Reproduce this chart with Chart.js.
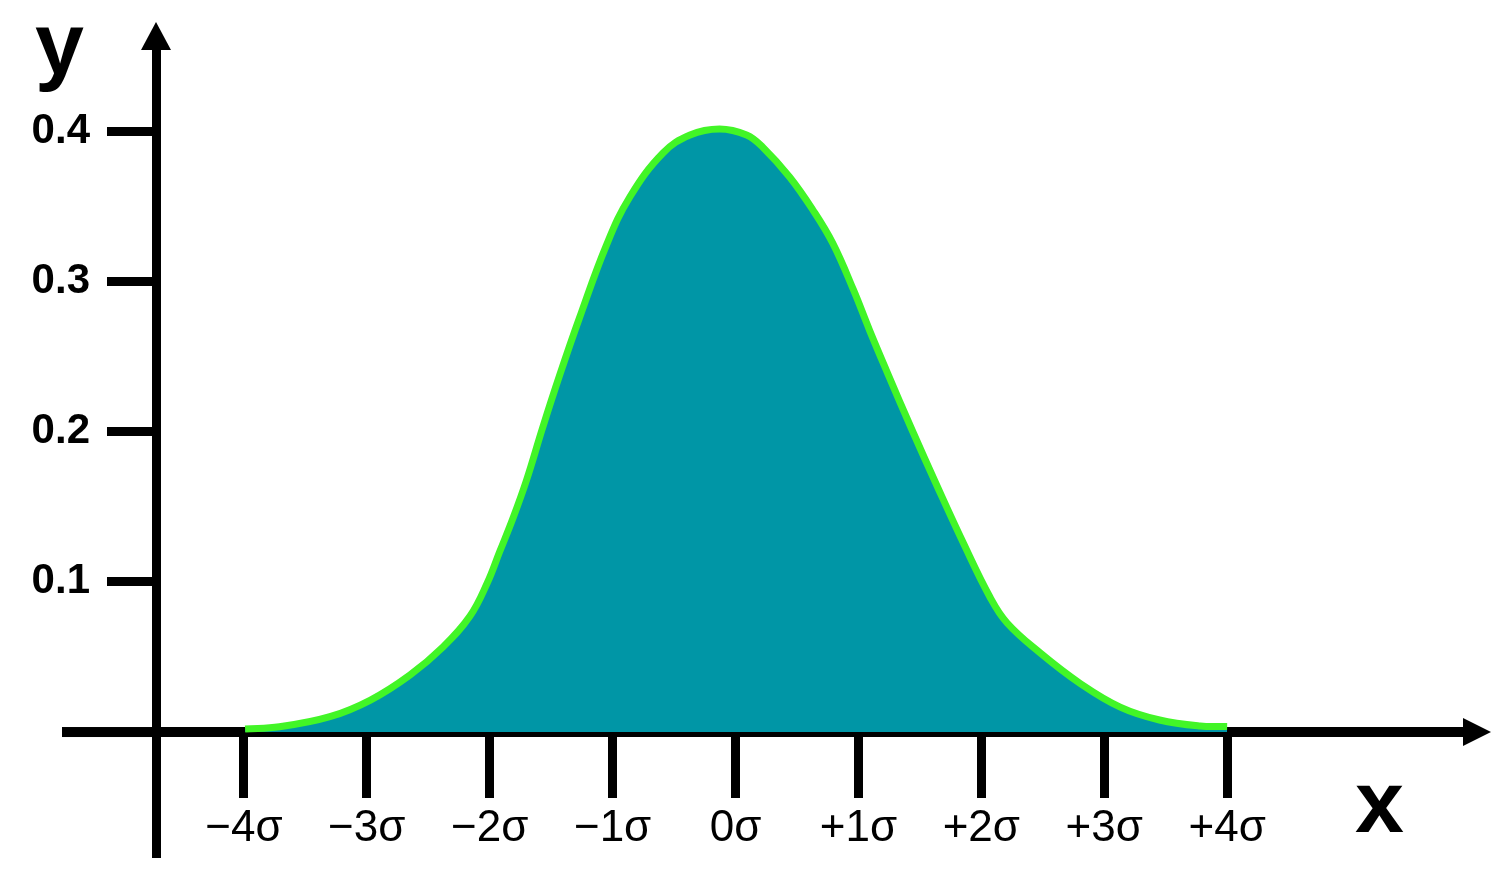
<!DOCTYPE html>
<html>
<head>
<meta charset="utf-8">
<title>Normal distribution</title>
<script src="https://cdn.jsdelivr.net/npm/chart.js@4/dist/chart.umd.min.js"></script>
<style>
    html, body { margin: 0; padding: 0; background: #ffffff; }
    #chart { display: block; }
</style>
</head>
<body>
<canvas id="chart" width="1507" height="890"></canvas>
<script>
// ============================================================================
// Data
// ============================================================================

// Curve samples: x in units of sigma, y = density
const curveX = [
    -3.99, -3.71, -3.30, -2.97, -2.65, -2.38, -2.16, -2.02, -1.92, -1.81,
    -1.70, -1.57, -1.43, -1.27, -1.05, -0.86, -0.59, -0.37, -0.13, 0.09,
    0.22, 0.44, 0.63, 0.79, 0.96, 1.09, 1.23, 1.44, 1.64, 1.85,
    2.07, 2.21, 2.48, 2.80, 3.13, 3.45, 3.78, 4.00
];
const curveY = [
    0.002, 0.0035, 0.0102, 0.0213, 0.0379, 0.0566, 0.0772, 0.0992, 0.1198, 0.1425,
    0.1678, 0.2024, 0.2377, 0.2756, 0.3242, 0.3562, 0.3855, 0.3975, 0.4015, 0.3975,
    0.3895, 0.3695, 0.3475, 0.3256, 0.2943, 0.2676, 0.2403, 0.2004, 0.1638, 0.1265,
    0.0899, 0.0726, 0.0526, 0.0326, 0.0166, 0.008, 0.004, 0.0037
];

// Axis ticks
const xTickValues = [-4, -3, -2, -1, 0, 1, 2, 3, 4];
const xTickLabels = ['\u22124\u03C3', '\u22123\u03C3', '\u22122\u03C3', '\u22121\u03C3', '0\u03C3',
                     '+1\u03C3', '+2\u03C3', '+3\u03C3', '+4\u03C3'];
const yTickValues = [0.1, 0.2, 0.3, 0.4];

const xAxisTitle = 'x';
const yAxisTitle = 'y';

// ============================================================================
// Styling
// ============================================================================

const FONT = "'Liberation Sans', Arial, sans-serif";
const FILL_COLOR = '#0096a6';
const LINE_COLOR = '#42f527';
const AXIS_COLOR = '#000000';

/**
 * Draws the parts of the axes Chart.js has no option for:
 * the stub of the x axis left of the y axis, both arrow heads and the titles.
 */
const axisExtras = {
    id: 'axisExtras',
    afterDraw(chart) {
        const { ctx, chartArea, scales } = chart;
        const y0 = scales.y.getPixelForValue(0);
        const yAxisX = chartArea.left;

        ctx.save();
        ctx.fillStyle = AXIS_COLOR;

        // x axis stub to the left of the y axis
        ctx.fillRect(62, y0 - 5, yAxisX - 62, 10);

        // x arrow head
        ctx.beginPath();
        ctx.moveTo(chartArea.right + 21, y0);
        ctx.lineTo(chartArea.right - 7, y0 - 14);
        ctx.lineTo(chartArea.right - 7, y0 + 14);
        ctx.closePath();
        ctx.fill();

        // y arrow head
        ctx.beginPath();
        ctx.moveTo(yAxisX, chartArea.top - 18);
        ctx.lineTo(yAxisX - 15, chartArea.top + 10);
        ctx.lineTo(yAxisX + 15, chartArea.top + 10);
        ctx.closePath();
        ctx.fill();

        // axis titles
        ctx.font = 'bold 88px ' + FONT;
        ctx.textAlign = 'left';
        ctx.textBaseline = 'alphabetic';
        ctx.fillText(yAxisTitle, yAxisX - 121, 74);
        ctx.fillText(xAxisTitle, 1355, 832);

        ctx.restore();
    }
};

// ============================================================================
// Chart
// ============================================================================

const points = curveX.map((x, i) => ({ x, y: curveY[i] }));

new Chart(document.getElementById('chart'), {
    type: 'line',
    data: {
        datasets: [{
            data: points,
            borderColor: LINE_COLOR,
            backgroundColor: FILL_COLOR,
            borderWidth: 7,
            fill: 'origin',
            pointRadius: 0,
            tension: 0.4,
            borderCapStyle: 'butt'
        }]
    },
    options: {
        responsive: false,
        animation: false,
        layout: {
            padding: { left: 0, right: 37, top: 40, bottom: 33 }
        },
        plugins: {
            legend: { display: false },
            tooltip: { enabled: false }
        },
        scales: {
            x: {
                type: 'linear',
                position: { y: 0 },
                min: -4.715,
                max: 5.976,
                z: 1,
                afterFit: (scale) => { scale.height = 0; },
                afterBuildTicks: (scale) => {
                    scale.ticks = xTickValues.map(v => ({ value: v }));
                },
                border: { display: true, color: AXIS_COLOR, width: 10 },
                grid: {
                    drawOnChartArea: false,
                    drawTicks: true,
                    tickLength: 61,
                    tickWidth: 9,
                    tickColor: AXIS_COLOR
                },
                ticks: {
                    autoSkip: false,
                    maxRotation: 0,
                    padding: 9,
                    color: AXIS_COLOR,
                    font: { family: FONT, size: 44 },
                    callback: (value, index) => xTickLabels[index]
                }
            },
            y: {
                type: 'linear',
                position: 'left',
                min: -0.0832,
                max: 0.4607,
                afterFit: (scale) => { scale.width = 156; },
                afterBuildTicks: (scale) => {
                    scale.ticks = yTickValues.map(v => ({ value: v }));
                },
                border: { display: true, color: AXIS_COLOR, width: 9 },
                grid: {
                    drawOnChartArea: false,
                    drawTicks: true,
                    tickLength: 49,
                    tickWidth: 9,
                    tickColor: AXIS_COLOR
                },
                ticks: {
                    padding: 17,
                    color: AXIS_COLOR,
                    // small line height keeps the label padding from shrinking the plot
                    font: { family: FONT, size: 42, weight: 'bold', lineHeight: 0.5 },
                    callback: (value) => value.toFixed(1)
                }
            }
        }
    },
    plugins: [axisExtras]
});
</script>
</body>
</html>
